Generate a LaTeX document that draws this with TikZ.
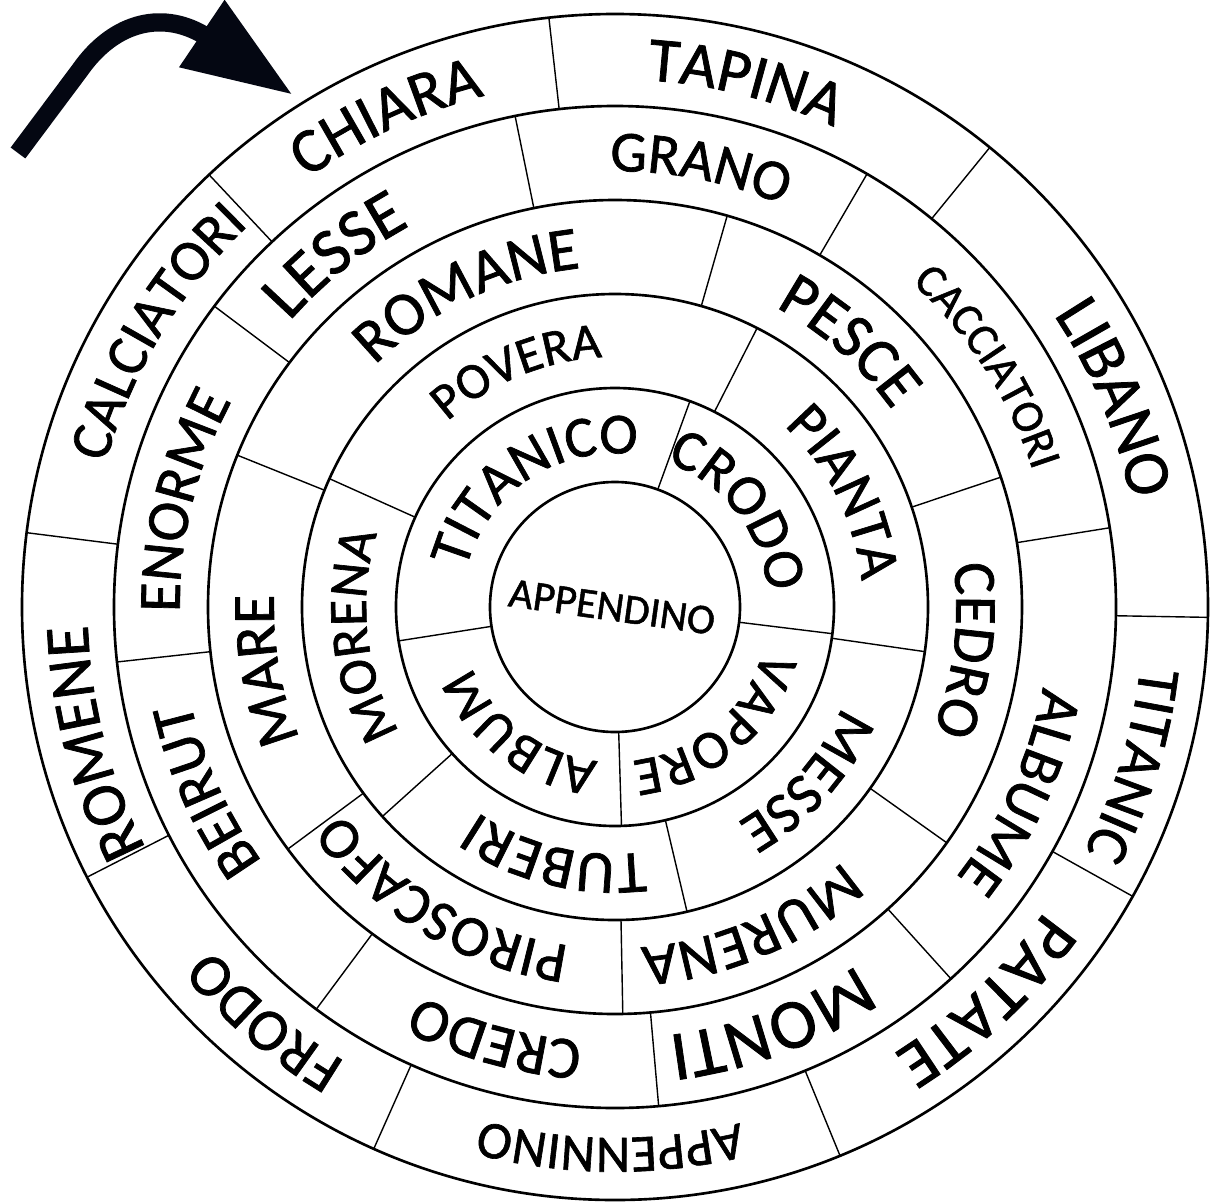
\documentclass[tikz,border=0pt]{standalone}
\usepackage{fontspec}
\setmainfont{Carlito}[FakeBold=1.2]
\usetikzlibrary{arrows.meta, decorations.text}

\definecolor{arrowink}{RGB}{4,7,18}

% word on a ring: centre angle, ring mid radius, font size, text
\newcommand{\ringword}[4]{%
  \pgfmathsetmacro{\wordrad}{#2-0.0111*#3}%
  \path[decorate, decoration={text along path, text align=center,
      text={|\fontsize{#3}{#3}\selectfont|#4}}]
    (#1+80:\wordrad) arc[start angle=#1+80, end angle=#1-80, radius=\wordrad];%
}

\begin{document}
\begin{tikzpicture}[
  ring/.style={draw, line width=0.75pt},
  divider/.style={draw, line width=0.4pt},
  bend arrow/.style={draw=arrowink, line width=5.2pt, -{Triangle[length=11mm, width=7.6mm]}}
]
\useasboundingbox (-6.15,-5.96) rectangle (5.95,6.07);

\foreach \r in {1.25,2.19,3.13,4.07,5.01,5.93}
  \draw[ring] (0,0) circle[radius=\r];

% spokes, ring by ring
\foreach \a in {70,-7,-88.3,188.9}
  \draw[divider] (\a:1.25) -- (\a:2.19);
\foreach \a in {63,-8.2,-76.7,222,155.8}
  \draw[divider] (\a:2.19) -- (\a:3.13);
\foreach \a in {74,18.6,-35.4,-88.9,216.5,158.1}
  \draw[divider] (\a:3.13) -- (\a:4.07);
\foreach \a in {101.5,59.8,9.1,-47.9,-85,233.4,186.3,143.1}
  \draw[divider] (\a:4.07) -- (\a:5.01);
\foreach \a in {96.4,50.8,-1,-29.2,-67.7,246,207.1,172.8,133.2}
  \draw[divider] (\a:5.01) -- (\a:5.93);

\node[rotate=-8, font=\fontsize{12}{12}\selectfont] (centre) at (-0.03,0) {APPENDINO};

\ringword{123.8}{1.72}{16.5}{TITANICO}
\ringword{38}{1.72}{16.5}{CRODO}
\ringword{-50}{1.72}{15.5}{VAPORE}
\ringword{233}{1.72}{15.5}{ALBUM}

\ringword{112.5}{2.66}{14.5}{POVERA}
\ringword{26.5}{2.66}{16.5}{PIANTA}
\ringword{-42}{2.66}{16.5}{MESSE}
\ringword{256.5}{2.66}{17}{TUBERI}
\ringword{186.5}{2.66}{15.5}{MORENA}

\ringword{115.3}{3.60}{17.5}{ROMANE}
\ringword{48.6}{3.60}{18}{PESCE}
\ringword{-7}{3.60}{17}{CEDRO}
\ringword{-66.9}{3.60}{17}{MURENA}
\ringword{239.6}{3.60}{16.5}{PIROSCAFO}
\ringword{190.3}{3.60}{17}{MARE}

\ringword{128.5}{4.54}{19}{LESSE}
\ringword{79}{4.54}{16.5}{GRANO}
\ringword{32.8}{4.54}{13}{CACCIATORI}
\ringword{-24.5}{4.54}{17}{ALBUME}
\ringword{-69.4}{4.54}{20}{MONTI}
\ringword{254.5}{4.54}{17}{CREDO}
\ringword{204.2}{4.54}{17}{BEIRUT}
\ringword{166.2}{4.54}{17}{ENORME}

\ringword{115}{5.475}{18}{CHIARA}
\ringword{76}{5.475}{18}{TAPINA}
\ringword{22.7}{5.475}{18.5}{LIBANO}
\ringword{-17}{5.475}{17}{TITANIC}
\ringword{-46.7}{5.475}{19}{PATATE}
\ringword{-90.5}{5.475}{15}{APPENNINO}
\ringword{229.8}{5.475}{17}{FRODO}
\ringword{194.6}{5.475}{18}{ROMENE}
\ringword{149}{5.475}{16.5}{CALCIATORI}

\coordinate (start) at (-5.97,4.54);
\coordinate (entry) at (-3.22,5.12);
\draw[bend arrow] (start) -- (-5.35,5.37)
  .. controls (-5.00,5.87) and (-4.50,5.97) .. (-4.08,5.70) -- (entry);
\end{tikzpicture}
\end{document}
